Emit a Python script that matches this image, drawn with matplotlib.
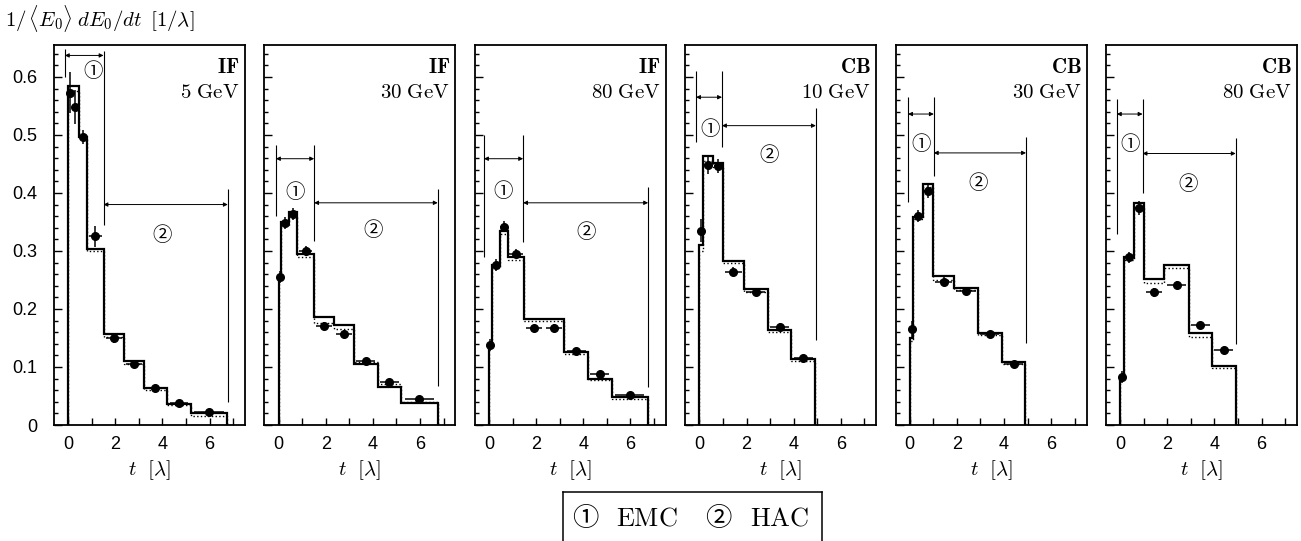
import matplotlib
matplotlib.use('Agg')
import matplotlib.pyplot as plt
from matplotlib.lines import Line2D
from matplotlib.ticker import MultipleLocator, FuncFormatter
import numpy as np

plt.rcParams['mathtext.fontset'] = 'cm'
plt.rcParams['font.family'] = ['Liberation Sans', 'DejaVu Sans']

# bin edges in t [lambda]
if_edges = [0, 0.12, 0.45, 0.8, 1.5, 2.35, 3.2, 4.2, 5.2, 6.75]
cb_edges = [0, 0.15, 0.58, 1.0, 1.88, 2.9, 3.9, 4.9]

detectors = ['IF', 'IF', 'IF', 'CB', 'CB', 'CB']
energies = ['5', '30', '80', '10', '30', '80']

# solid histogram
sim_if5 = [0.585, 0.585, 0.497, 0.303, 0.157, 0.110, 0.063, 0.037, 0.020]
sim_if30 = [0.255, 0.350, 0.368, 0.295, 0.186, 0.172, 0.105, 0.066, 0.038]
sim_if80 = [0.140, 0.275, 0.334, 0.289, 0.182, 0.182, 0.126, 0.080, 0.048]
sim_cb10 = [0.310, 0.463, 0.452, 0.282, 0.234, 0.164, 0.113]
sim_cb30 = [0.150, 0.358, 0.415, 0.257, 0.237, 0.159, 0.108]
sim_cb80 = [0.083, 0.289, 0.383, 0.251, 0.275, 0.159, 0.102]

# dotted histogram
mc_if5 = [0.575, 0.575, 0.494, 0.300, 0.152, 0.105, 0.060, 0.034, 0.016]
mc_if30 = [0.250, 0.345, 0.360, 0.290, 0.176, 0.165, 0.108, 0.070, 0.040]
mc_if80 = [0.135, 0.270, 0.330, 0.285, 0.180, 0.180, 0.122, 0.078, 0.044]
mc_cb10 = [0.300, 0.455, 0.445, 0.280, 0.230, 0.160, 0.110]
mc_cb30 = [0.145, 0.355, 0.410, 0.250, 0.232, 0.155, 0.105]
mc_cb80 = [0.080, 0.285, 0.375, 0.245, 0.270, 0.152, 0.098]

# data points
dat_if5 = [0.573, 0.548, 0.496, 0.325, 0.150, 0.106, 0.063, 0.038, 0.022]
dat_if30 = [0.255, 0.348, 0.364, 0.300, 0.171, 0.157, 0.111, 0.074, 0.044]
dat_if80 = [0.138, 0.276, 0.342, 0.295, 0.167, 0.168, 0.128, 0.088, 0.052]
dat_cb10 = [0.335, 0.448, 0.446, 0.264, 0.230, 0.169, 0.116]
dat_cb30 = [0.165, 0.360, 0.404, 0.247, 0.231, 0.157, 0.106]
dat_cb80 = [0.083, 0.289, 0.374, 0.229, 0.242, 0.172, 0.129]

err_if5 = [0.035, 0.030, 0.012, 0.018, 0.008, 0.006, 0.005, 0.004, 0.004]
err_if30 = [0.010, 0.010, 0.010, 0.008, 0.006, 0.006, 0.005, 0.004, 0.004]
err_if80 = [0.010, 0.010, 0.010, 0.008, 0.006, 0.006, 0.005, 0.004, 0.004]
err_cb10 = [0.020, 0.015, 0.012, 0.008, 0.006, 0.006, 0.005]
err_cb30 = [0.015, 0.010, 0.012, 0.008, 0.006, 0.005, 0.005]
err_cb80 = [0.010, 0.010, 0.012, 0.008, 0.006, 0.006, 0.005]

sim = [sim_if5, sim_if30, sim_if80, sim_cb10, sim_cb30, sim_cb80]
mc = [mc_if5, mc_if30, mc_if80, mc_cb10, mc_cb30, mc_cb80]
dat = [dat_if5, dat_if30, dat_if80, dat_cb10, dat_cb30, dat_cb80]
err = [err_if5, err_if30, err_if80, err_cb10, err_cb30, err_cb80]

# EMC / HAC ranges marked in each panel
emc_lo = [-0.14, -0.11, -0.21, -0.14, -0.07, -0.14]
emc_hi = [1.50, 1.51, 1.45, 0.96, 1.02, 0.95]
hac_hi = [6.77, 6.75, 6.75, 4.94, 4.93, 4.90]

# annotation layout (arrow heights, line extents, label spots)
emc_arrow_y = [0.637, 0.459, 0.459, 0.565, 0.536, 0.536]
hac_arrow_y = [0.380, 0.383, 0.383, 0.516, 0.469, 0.468]
emc_left_span = [(0.60, 0.648), (0.36, 0.483), (0.289, 0.50), (0.488, 0.611), (0.384, 0.565), (0.33, 0.562)]
emc_right_span = [(0.344, 0.645), (0.318, 0.483), (0.315, 0.50), (0.48, 0.611), (0.43, 0.565), (0.40, 0.562)]
hac_right_span = [(0.04, 0.406), (0.068, 0.407), (0.066, 0.41), (0.147, 0.546), (0.142, 0.497), (0.139, 0.495)]
lab1 = [(1.07, 0.609), (0.70, 0.401), (0.61, 0.402), (0.47, 0.51), (0.49, 0.484), (0.42, 0.483)]
lab2 = [(3.97, 0.326), (4.0, 0.335), (4.14, 0.332), (2.98, 0.465), (2.9, 0.416), (2.88, 0.415)]

circ = ['Noto Sans CJK JP', 'DejaVu Sans']

fig = plt.figure(figsize=(13.01, 5.41), dpi=100)

for i in range(6):
    ax = fig.add_axes([(54 + i * 210.4) / 1301, 1 - 425 / 541, 191 / 1301, 380 / 541])
    edges = np.array(if_edges if detectors[i] == 'IF' else cb_edges)
    xc = (edges[:-1] + edges[1:]) / 2
    w = edges[1:] - edges[:-1]

    ax.stairs(mc[i], edges, color='k', lw=1.0, ls=':')
    ax.stairs(sim[i], edges, color='k', lw=1.6)
    ax.errorbar(xc, dat[i], yerr=err[i], xerr=0.4 * w, fmt='o', color='k',
                ms=5.5, elinewidth=1.1, capsize=0)

    # EMC / HAC markers
    ax.vlines(emc_lo[i], *emc_left_span[i], color='k', lw=0.8)
    ax.vlines(emc_hi[i], *emc_right_span[i], color='k', lw=0.8)
    ax.vlines(hac_hi[i], *hac_right_span[i], color='k', lw=0.8)
    ap = dict(arrowstyle='<|-|>', lw=0.7, color='k', mutation_scale=6, shrinkA=0, shrinkB=0)
    ax.annotate('', xy=(emc_lo[i], emc_arrow_y[i]), xytext=(emc_hi[i], emc_arrow_y[i]), arrowprops=ap)
    ax.annotate('', xy=(emc_hi[i], hac_arrow_y[i]), xytext=(hac_hi[i], hac_arrow_y[i]), arrowprops=ap)
    ax.text(*lab1[i], '①', family=circ, fontsize=14, ha='center', va='center')
    ax.text(*lab2[i], '②', family=circ, fontsize=14, ha='center', va='center')

    ax.set_xlim(-0.6, 7.5)
    ax.set_ylim(0, 0.655)
    ax.xaxis.set_major_locator(MultipleLocator(2))
    ax.xaxis.set_minor_locator(MultipleLocator(1))
    ax.yaxis.set_major_locator(MultipleLocator(0.1))
    ax.yaxis.set_minor_locator(MultipleLocator(0.02))
    ax.tick_params(which='both', direction='in', top=False, right=False, width=1)
    ax.tick_params(axis='y', which='major', length=6, pad=12)
    ax.tick_params(axis='y', which='minor', length=3)
    ax.tick_params(axis='x', which='both', length=5, pad=8, labelsize=13)
    ax.tick_params(axis='y', labelsize=13)
    if i == 0:
        ax.yaxis.set_major_formatter(FuncFormatter(lambda v, p: '0' if abs(v) < 1e-9 else f'{v:.1f}'))
    else:
        ax.set_yticklabels([])
    for s in ax.spines.values():
        s.set_linewidth(1.3)

    ax.text(0.972, 0.942, r'$\mathbf{' + detectors[i] + '}$', transform=ax.transAxes,
            ha='right', va='center', fontsize=15)
    ax.text(0.972, 0.876, r'$' + energies[i] + r'\ \mathrm{GeV}$', transform=ax.transAxes,
            ha='right', va='center', fontsize=15)
    ax.text(0.5, -0.118, r'$t\ \ [\lambda]$', transform=ax.transAxes,
            ha='center', va='center', fontsize=15)

fig.text(5 / 1301, 1 - 18 / 541, r'$1/\,\langle E_0\rangle\;dE_0/dt\ \,[1/\lambda]$',
         ha='left', va='center', fontsize=15)

# legend box at the bottom
fx = lambda px: px / 1301
fy = lambda py: 1 - py / 541
for xs, ys in [([563, 563], [492, 545]), ([563, 822], [492, 492]), ([822, 822], [492, 545])]:
    fig.add_artist(Line2D([fx(v) for v in xs], [fy(v) for v in ys], color='k', lw=1.1))
fig.text(fx(585), fy(519), '①', family=circ, fontsize=19, ha='center', va='center')
fig.text(fx(647), fy(519), r'$\mathrm{EMC}$', fontsize=19, ha='center', va='center')
fig.text(fx(718), fy(519), '②', family=circ, fontsize=19, ha='center', va='center')
fig.text(fx(780), fy(519), r'$\mathrm{HAC}$', fontsize=19, ha='center', va='center')

fig.savefig('out.png', dpi=100)
